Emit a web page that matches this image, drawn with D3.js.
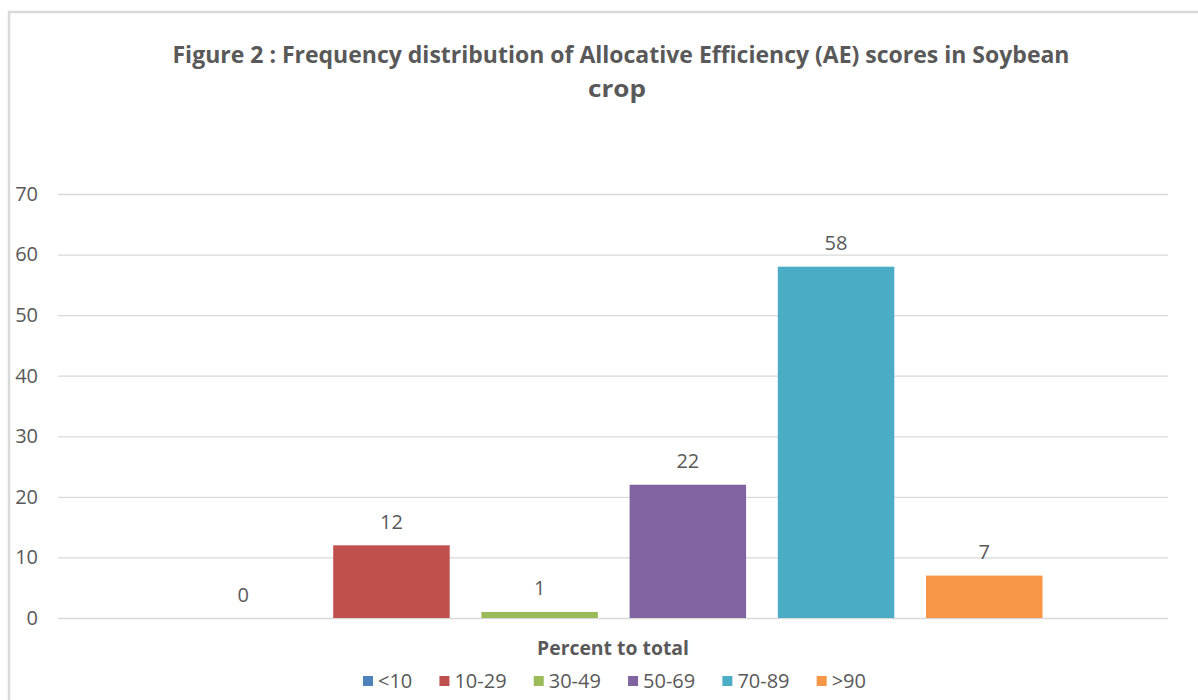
<!DOCTYPE html>
<html>
<head>
<meta charset="utf-8">
<script src="https://cdn.jsdelivr.net/npm/d3@7/dist/d3.min.js"></script>
<style>
  html, body { margin: 0; padding: 0; background: #fff; }
  svg { display: block; }
  text { font-family: "Open Sans", "DejaVu Sans", sans-serif; fill: #595959; }
</style>
</head>
<body>
<svg id="chart" width="1198" height="700"></svg>
<script>
const titleLines = ["Figure 2 : Frequency distribution of Allocative Efficiency (AE) scores in Soybean", "crop"];
const categoryLabel = "Percent to total";
const seriesNames = ["<10", "10-29", "30-49", "50-69", "70-89", ">90"];
const seriesValues = [0, 12, 1, 22, 58, 7];
const seriesColors = ["#4F81BD", "#C0504D", "#9BBB59", "#8064A2", "#4BACC6", "#F79646"];
const yTicks = [0, 10, 20, 30, 40, 50, 60, 70];

const svg = d3.select("#chart");
const W = 1198, H = 700;
const plot = { left: 58, right: 1168, top: 194, bottom: 618 };

// Outer border
svg.append("path")
  .attr("d", `M9,${H} V12 H${W}`)
  .attr("fill", "none")
  .attr("stroke", "#D9D9D9")
  .attr("stroke-width", 2.5);

// Title
svg.append("text")
  .attr("x", 621).attr("y", 63)
  .attr("text-anchor", "middle")
  .attr("font-size", 23).attr("font-weight", "bold")
  .attr("textLength", 897).attr("lengthAdjust", "spacingAndGlyphs")
  .text(titleLines[0]);
svg.append("text")
  .attr("x", 617).attr("y", 97)
  .attr("text-anchor", "middle")
  .attr("font-size", 23).attr("font-weight", "bold")
  .attr("textLength", 58).attr("lengthAdjust", "spacingAndGlyphs")
  .text(titleLines[1]);

const y = d3.scaleLinear().domain([0, 70]).range([plot.bottom, plot.top]);
const x = d3.scaleBand().domain(seriesNames).range([185, 1042.5]).paddingInner(0.214).paddingOuter(0);

// Gridlines
const yAxis = d3.axisLeft(y).tickValues(yTicks).tickSize(-(plot.right - plot.left)).tickPadding(20).tickFormat(d3.format("d"));
const gAxis = svg.append("g").attr("transform", `translate(${plot.left},0)`).call(yAxis);
gAxis.select(".domain").remove();
gAxis.selectAll(".tick line").attr("stroke", "#D9D9D9").attr("stroke-width", 1.3);
gAxis.selectAll(".tick text")
  .attr("font-size", 20).attr("fill", "#595959")
  .attr("font-family", '"Open Sans", sans-serif');

// Bars
svg.append("g").selectAll("rect")
  .data(seriesNames)
  .join("rect")
  .attr("x", d => x(d))
  .attr("width", x.bandwidth())
  .attr("y", (d, i) => y(seriesValues[i]))
  .attr("height", (d, i) => y(0) - y(seriesValues[i]))
  .attr("fill", (d, i) => seriesColors[i]);

// Data labels
svg.append("g").selectAll("text")
  .data(seriesNames)
  .join("text")
  .attr("x", d => x(d) + x.bandwidth() / 2)
  .attr("y", (d, i) => y(seriesValues[i]) - 16.5)
  .attr("text-anchor", "middle")
  .attr("font-size", 20)
  .text((d, i) => seriesValues[i]);

// Category label
svg.append("text")
  .attr("x", 613).attr("y", 655)
  .attr("text-anchor", "middle")
  .attr("font-size", 19).attr("font-weight", "bold")
  .attr("textLength", 152).attr("lengthAdjust", "spacingAndGlyphs")
  .text(categoryLabel);

// Legend
const legStart = 363, legEnd = 866, legY = 681, sq = 10, sqGap = 5;
const leg = svg.append("g");
const items = leg.selectAll("g").data(seriesNames).join("g");
items.append("rect").attr("width", sq).attr("height", sq).attr("y", legY - sq / 2)
  .attr("fill", (d, i) => seriesColors[i]);
const txt = items.append("text").attr("y", legY + 7).attr("font-size", 20).text(d => d);
const widths = [];
txt.each(function() { widths.push(this.getComputedTextLength()); });
const itemWidths = widths.map(w => sq + sqGap + w);
const totalItems = d3.sum(itemWidths);
const gap = (legEnd - legStart - totalItems) / (seriesNames.length - 1);
let cx = legStart;
items.each(function(d, i) {
  const g = d3.select(this);
  g.select("rect").attr("x", cx);
  g.select("text").attr("x", cx + sq + sqGap);
  cx += itemWidths[i] + gap;
});
</script>
</body>
</html>
